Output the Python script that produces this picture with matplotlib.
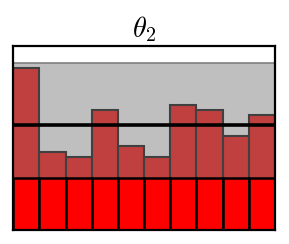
import matplotlib
matplotlib.use("Agg")
import matplotlib.pyplot as plt
import numpy as np

plt.rcParams['mathtext.fontset'] = 'cm'

bins = np.arange(10)
base_heights = [0.282] * 10
hist_heights = [0.877, 0.425, 0.398, 0.651, 0.456, 0.394, 0.678, 0.651, 0.512, 0.622]
band_top = 0.908
mean_line = 0.570
title = r'$\theta_2$'

fig = plt.figure(figsize=(2.89, 2.44), dpi=100)
ax = fig.add_axes([0.046, 0.0574, 0.9056, 0.7553])

ax.axhspan(0, band_top, facecolor='#bfbfbf', edgecolor='#808080', linewidth=1.2, zorder=0)
ax.bar(bins, hist_heights, width=1.0, color='#c04040', edgecolor='#404040', linewidth=1.5, zorder=1)
ax.bar(bins, base_heights, width=1.0, color='#ff0000', edgecolor='black', linewidth=1.8, zorder=2)
ax.axhline(mean_line, color='black', linewidth=2.6, zorder=3)

ax.set_xlim(-0.5, 9.5)
ax.set_ylim(0, 1)
ax.set_xticks([])
ax.set_yticks([])
for s in ax.spines.values():
    s.set_linewidth(1.6)
    s.set_zorder(4)
ax.set_title(title, fontsize=20.5, pad=6)

fig.savefig('out.png', dpi=100)
